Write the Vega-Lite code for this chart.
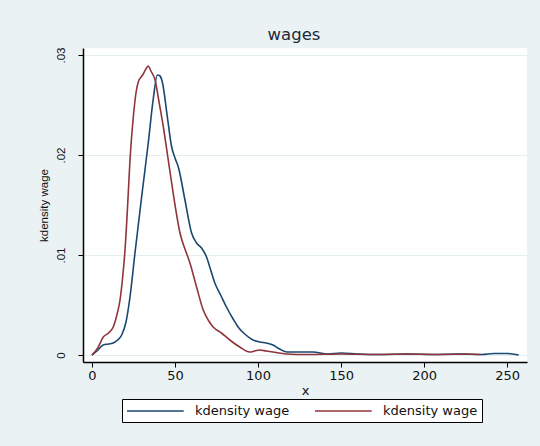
{
  "$schema": "https://vega.github.io/schema/vega-lite/v6.json",
  "width": 444,
  "height": 314,
  "autosize": {"type": "none"},
  "padding": {"left": 83, "top": 48, "right": 13, "bottom": 84},
  "background": "#eaf2f3",
  "title": {"text": "wages", "anchor": "middle", "dx": -11, "offset": 4, "fontSize": 16.5, "font": "DejaVu Sans", "fontWeight": "normal", "color": "#1a2a3a"},
  "config": {
    "view": {"fill": "white", "stroke": null},
    "font": "DejaVu Sans"
  },
  "data": {"values": [
    {"s":"b","x":0,"y":0},{"s":"b","x":3,"y":0.0004},{"s":"b","x":6.8,"y":0.001},{"s":"b","x":10,"y":0.0011},{"s":"b","x":12.8,"y":0.0012},{"s":"b","x":15.5,"y":0.0015},{"s":"b","x":17.9,"y":0.002},{"s":"b","x":20.5,"y":0.0033},{"s":"b","x":22.9,"y":0.0058},{"s":"b","x":25.9,"y":0.0102},{"s":"b","x":29.9,"y":0.0158},{"s":"b","x":33.9,"y":0.0212},{"s":"b","x":36.9,"y":0.0256},{"s":"b","x":39.4,"y":0.028},{"s":"b","x":41,"y":0.0279},{"s":"b","x":42.5,"y":0.0272},{"s":"b","x":45.4,"y":0.0238},{"s":"b","x":48,"y":0.0208},{"s":"b","x":50,"y":0.0197},{"s":"b","x":52,"y":0.0188},{"s":"b","x":56,"y":0.0155},{"s":"b","x":60,"y":0.0122},{"s":"b","x":63,"y":0.0112},{"s":"b","x":66,"y":0.0107},{"s":"b","x":69,"y":0.0098},{"s":"b","x":71.5,"y":0.0085},{"s":"b","x":74,"y":0.0072},{"s":"b","x":77.5,"y":0.006},{"s":"b","x":81,"y":0.0048},{"s":"b","x":85,"y":0.0036},{"s":"b","x":88,"y":0.0028},{"s":"b","x":92,"y":0.0021},{"s":"b","x":97,"y":0.0015},{"s":"b","x":101,"y":0.0013},{"s":"b","x":105,"y":0.0012},{"s":"b","x":109,"y":0.001},{"s":"b","x":113,"y":0.0006},{"s":"b","x":117.5,"y":0.0003},{"s":"b","x":125,"y":0.0003},{"s":"b","x":133,"y":0.0003},{"s":"b","x":142,"y":0.0001},{"s":"b","x":150,"y":0.0002},{"s":"b","x":160,"y":0.0001},{"s":"b","x":175,"y":0.00005},{"s":"b","x":190,"y":0.0001},{"s":"b","x":205,"y":0.00005},{"s":"b","x":220,"y":0.0001},{"s":"b","x":235,"y":0.00005},{"s":"b","x":242,"y":0.00015},{"s":"b","x":250,"y":0.00015},{"s":"b","x":257,"y":0.0},
    {"s":"r","x":0,"y":0},{"s":"r","x":3.5,"y":0.0007},{"s":"r","x":6.8,"y":0.0018},{"s":"r","x":10,"y":0.0022},{"s":"r","x":12.8,"y":0.0028},{"s":"r","x":15,"y":0.004},{"s":"r","x":16.9,"y":0.0055},{"s":"r","x":18.5,"y":0.0078},{"s":"r","x":19.9,"y":0.0105},{"s":"r","x":21.5,"y":0.015},{"s":"r","x":22.9,"y":0.0195},{"s":"r","x":24.9,"y":0.0238},{"s":"r","x":26.5,"y":0.0262},{"s":"r","x":27.9,"y":0.0273},{"s":"r","x":30.5,"y":0.028},{"s":"r","x":32.5,"y":0.0286},{"s":"r","x":33.9,"y":0.0289},{"s":"r","x":35.5,"y":0.0284},{"s":"r","x":38,"y":0.0275},{"s":"r","x":40.5,"y":0.0252},{"s":"r","x":43,"y":0.0228},{"s":"r","x":45.5,"y":0.02},{"s":"r","x":48,"y":0.0172},{"s":"r","x":50.5,"y":0.0145},{"s":"r","x":53,"y":0.0122},{"s":"r","x":56,"y":0.0106},{"s":"r","x":59,"y":0.0092},{"s":"r","x":63,"y":0.0068},{"s":"r","x":67,"y":0.0045},{"s":"r","x":70,"y":0.0035},{"s":"r","x":73,"y":0.0028},{"s":"r","x":78,"y":0.0022},{"s":"r","x":83,"y":0.0015},{"s":"r","x":89,"y":0.0008},{"s":"r","x":95,"y":0.0003},{"s":"r","x":98,"y":0.0004},{"s":"r","x":101,"y":0.0005},{"s":"r","x":105,"y":0.0004},{"s":"r","x":109,"y":0.0003},{"s":"r","x":117,"y":0.0001},{"s":"r","x":130,"y":0.00005},{"s":"r","x":150,"y":0.0001},{"s":"r","x":170,"y":0.00005},{"s":"r","x":190,"y":0.0001},{"s":"r","x":210,"y":0.00005},{"s":"r","x":225,"y":0.0001},{"s":"r","x":234,"y":0.00005}
  ]},
  "mark": {"type": "line", "interpolate": "monotone", "strokeWidth": 1.6},
  "encoding": {
    "x": {"field": "x", "type": "quantitative",
      "scale": {"domain": [-5.4, 262], "nice": false, "zero": false},
      "axis": {"values": [0,50,100,150,200,250], "title": "x", "grid": false, "domainColor": "black", "domainWidth": 1.5, "tickColor": "black", "tickSize": 5, "labelFont": "DejaVu Sans", "labelFontSize": 13, "labelColor": "#111", "titleFont": "DejaVu Sans", "titleFontSize": 13, "titleFontWeight": "normal", "titleColor": "#111", "titlePadding": 2, "labelPadding": 2}},
    "y": {"field": "y", "type": "quantitative",
      "scale": {"domain": [-0.0007, 0.0307], "nice": false, "zero": false},
      "axis": {"values": [0, 0.01, 0.02, 0.03], "title": "kdensity wage", "grid": true, "gridColor": "#e3eef1", "gridWidth": 1.2, "domainColor": "black", "domainWidth": 1.5, "tickColor": "black", "tickSize": 5,
        "labelExpr": "datum.value == 0 ? '0' : replace(format(datum.value, '.2f'), '0.', '.')",
        "labelAngle": -90, "labelAlign": "center", "labelBaseline": "bottom", "labelPadding": 12, "labelFont": "Liberation Sans", "labelFontSize": 11.5, "labelColor": "#111",
        "titleFont": "Liberation Sans", "titleFontSize": 11.5, "titleFontWeight": "normal", "titleColor": "#111", "titlePadding": 6}},
    "color": {"field": "s", "type": "nominal",
      "scale": {"domain": ["b", "r"], "range": ["#1a476f", "#90353b"]},
      "legend": {"orient": "none", "legendX": 39, "legendY": 351, "direction": "horizontal", "columns": 2, "title": null,
        "labelExpr": "'kdensity wage'", "symbolType": "M-1,0H7.1", "symbolSize": 196, "symbolStrokeWidth": 1.6,
        "labelFont": "DejaVu Sans", "labelFontSize": 13, "labelColor": "#111", "labelOffset": 53, "labelLimit": 200, "columnPadding": 21,
        "strokeColor": "black", "fillColor": "white", "padding": 4}}
  }
}
